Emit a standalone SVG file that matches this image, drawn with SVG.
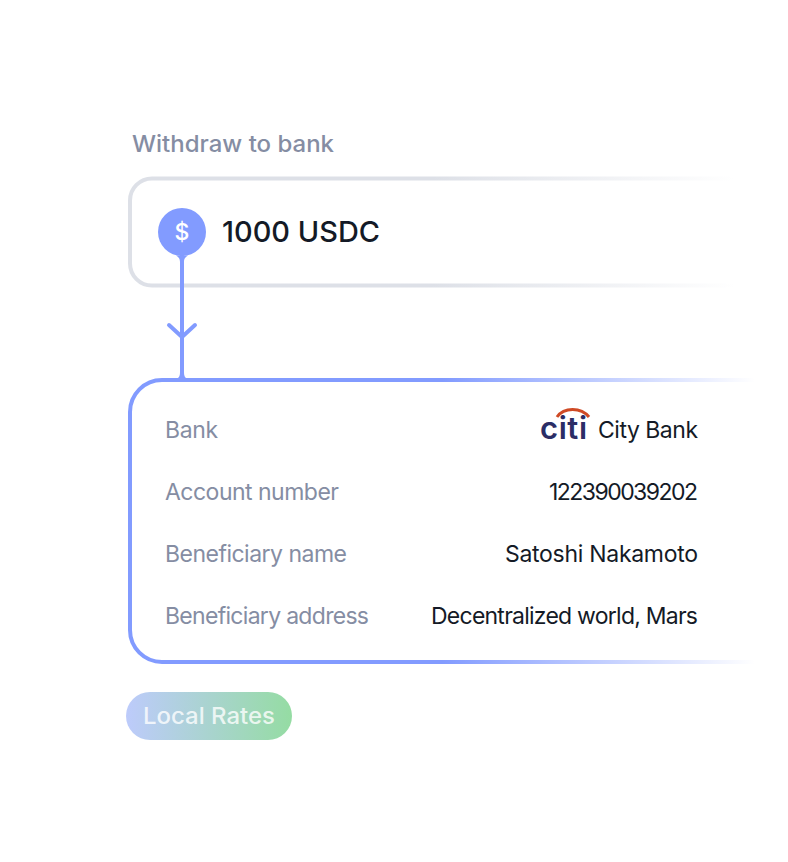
<svg xmlns="http://www.w3.org/2000/svg" width="788" height="862" viewBox="0 0 788 862">
<defs>
<linearGradient id="g1" gradientUnits="userSpaceOnUse" x1="130" y1="0" x2="735" y2="0"><stop offset="0" stop-color="#dde0e7"/><stop offset="0.5" stop-color="#dde0e7"/><stop offset="1" stop-color="#dde0e7" stop-opacity="0"/></linearGradient>
<linearGradient id="g2" gradientUnits="userSpaceOnUse" x1="130" y1="0" x2="755" y2="0"><stop offset="0" stop-color="#829bff"/><stop offset="0.5" stop-color="#829bff"/><stop offset="1" stop-color="#829bff" stop-opacity="0"/></linearGradient>
<linearGradient id="g3" x1="0" y1="0" x2="1" y2="0"><stop offset="0" stop-color="#bdcbfb"/><stop offset="1" stop-color="#95dca3"/></linearGradient>
</defs>
<style>
.l{font:23px "Inter","Liberation Sans",sans-serif;fill:#858da3}
.v{font:23px "Inter","Liberation Sans",sans-serif;fill:#141a26}
</style>
<rect width="788" height="862" fill="#fff"/>
<text x="132" y="152" textLength="202" lengthAdjust="spacingAndGlyphs" style="font:500 23px 'Inter','Liberation Sans',sans-serif;fill:#858da3">Withdraw to bank</text>
<g id="amount"><path d="M735 178.500H152a22 22 0 0 0-22 22V263.500a22 22 0 0 0 22 22H735" fill="none" stroke="url(#g1)" stroke-width="4"/>
<text x="222" y="242" textLength="158" lengthAdjust="spacingAndGlyphs" style="font:500 29px 'Inter','Liberation Sans',sans-serif;fill:#141a26">1000 USDC</text></g>
<g id="connectors" fill="none" stroke="#829bff" stroke-width="4"><path d="M182 250V380"/><path d="M169 325L182 337L195 325" stroke-linecap="round" stroke-linejoin="round"/></g>
<g id="coin"><path d="M176 255.500C178 257 180 258 180 262H184C184 258 186 257 188 255.500Z" fill="#829bff"/><circle cx="182" cy="232" r="24" fill="#829bff"/><text x="182" y="240" text-anchor="middle" style="font:500 23px 'Inter','Liberation Sans',sans-serif;fill:#fff">$</text></g>
<g id="details"><path d="M176 379C179 378 180 376 180 372H184C184 376 185 378 188 379Z" fill="#829bff"/><path d="M755 380H162a32 32 0 0 0-32 32V630a32 32 0 0 0 32 32H755" fill="none" stroke="url(#g2)" stroke-width="4"/>
<text class="l" x="165" y="438" textLength="53" lengthAdjust="spacing">Bank</text><text class="l" x="165" y="500" textLength="174" lengthAdjust="spacing">Account number</text><text class="l" x="165" y="562" textLength="182" lengthAdjust="spacing">Beneficiary name</text><text class="l" x="165" y="624" textLength="204" lengthAdjust="spacing">Beneficiary address</text>
<text class="v" x="598" y="438" textLength="100" lengthAdjust="spacing">City Bank</text><text class="v" x="549" y="500" textLength="149" lengthAdjust="spacing">122390039202</text><text class="v" x="505" y="562" textLength="193" lengthAdjust="spacing">Satoshi Nakamoto</text><text class="v" x="431" y="624" textLength="267" lengthAdjust="spacing">Decentralized world, Mars</text>
<text x="540" y="439" textLength="47" lengthAdjust="spacing" style="font:600 31px 'Inter','Liberation Sans',sans-serif;fill:#2b2d66">citi</text><path d="M557 417C564 407 581 407 589 417" fill="none" stroke="#cf4a25" stroke-width="3"/></g>
<g id="badge"><rect x="126" y="692" width="166" height="48" rx="24" fill="url(#g3)"/><text x="143" y="724" textLength="132" lengthAdjust="spacingAndGlyphs" style="font:500 23px 'Inter','Liberation Sans',sans-serif;fill:#fff;fill-opacity:.8">Local Rates</text></g>
</svg>
